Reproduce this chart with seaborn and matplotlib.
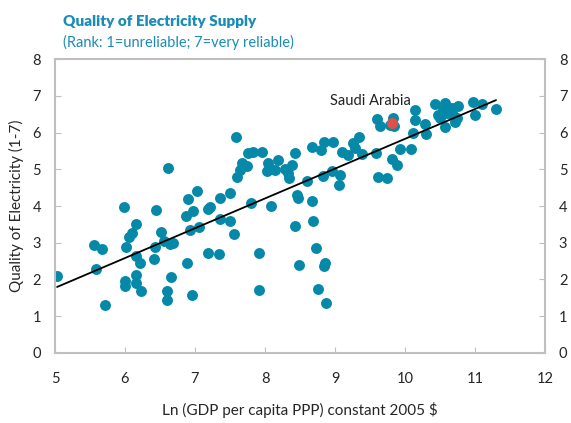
import numpy as np
import pandas as pd
import matplotlib
matplotlib.use("Agg")
import matplotlib.pyplot as plt
import seaborn as sns

# Ln GDP per capita (x) and electricity quality rank (y)
gdp = [5.03, 5.56, 5.59, 5.67, 5.71, 5.99, 6.01, 6.06, 6.10, 6.16,
       6.16, 6.21, 6.16, 6.00, 6.00, 6.16, 6.23, 6.44, 6.51, 6.43,
       6.41, 6.61, 6.56, 6.64, 6.69, 6.66, 6.60, 6.60, 6.87, 6.90,
       6.89, 6.96, 6.93, 7.03, 6.97, 7.19, 7.21, 7.06, 7.19, 7.34,
       7.36, 7.50, 7.36, 7.50, 7.56, 7.59, 7.76, 7.83, 7.96, 7.67,
       7.74, 7.64, 7.60, 7.80, 7.91, 7.91, 8.04, 8.03, 8.09, 8.14,
       8.19, 8.29, 8.33, 8.39, 8.34, 8.43, 8.09, 8.46, 8.47, 8.43,
       8.49, 8.60, 8.67, 8.80, 8.84, 8.97, 8.83, 8.67, 8.69, 8.73,
       8.84, 8.86, 8.76, 8.87, 8.96, 9.07, 9.06, 9.10, 9.19, 9.26,
       9.29, 9.34, 9.39, 9.59, 9.60, 9.64, 9.83, 9.79, 9.84, 9.61,
       9.74, 9.81, 9.89, 9.93, 10.09, 10.11, 10.14, 10.14, 10.29, 10.30,
       10.43, 10.47, 10.50, 10.57, 10.54, 10.60, 10.67, 10.69, 10.76, 10.57,
       10.74, 10.71, 10.97, 11.10, 11.00, 11.30]
quality = [2.10, 2.94, 2.29, 2.83, 1.31, 3.97, 2.88, 3.16, 3.27, 3.51,
           2.64, 2.45, 2.12, 1.96, 1.82, 1.90, 1.69, 3.89, 3.29, 2.88,
           2.56, 5.03, 3.05, 2.97, 2.99, 2.07, 1.69, 1.44, 3.73, 4.19,
           2.45, 1.58, 3.35, 4.41, 3.86, 3.92, 3.97, 3.43, 2.72, 2.69,
           4.22, 4.35, 3.65, 3.59, 3.24, 5.88, 5.44, 5.47, 5.47, 5.17,
           5.09, 4.98, 4.79, 4.08, 2.72, 1.71, 5.17, 4.95, 5.01, 4.98,
           5.25, 5.01, 4.90, 5.12, 4.76, 5.44, 4.00, 4.30, 4.22, 3.46,
           2.39, 4.68, 5.61, 5.52, 5.74, 5.74, 4.82, 4.14, 3.59, 2.86,
           2.37, 2.45, 1.74, 1.36, 4.95, 4.84, 4.57, 5.47, 5.39, 5.71,
           5.58, 5.88, 5.41, 5.44, 6.37, 6.18, 6.39, 6.20, 6.18, 4.79,
           4.76, 5.28, 5.12, 5.55, 5.55, 5.99, 6.61, 6.34, 6.23, 5.96,
           6.78, 6.48, 6.39, 6.80, 6.61, 6.53, 6.67, 6.48, 6.72, 6.15,
           6.39, 6.29, 6.83, 6.78, 6.48, 6.64]

saudi_gdp = [9.81]
saudi_quality = [6.26]

df = pd.DataFrame({"gdp": gdp + saudi_gdp, "quality": quality + saudi_quality})
saudi = pd.DataFrame({"gdp": saudi_gdp, "quality": saudi_quality})

sns.set_style("white")
plt.rcParams["font.family"] = ["Lato", "DejaVu Sans"]

fig = plt.figure(figsize=(5.71, 4.23), dpi=100)
ax = fig.add_axes([0.0963, 0.1655, 0.8582, 0.695])

teal = "#0689a8"
sns.regplot(data=df, x="gdp", y="quality", ci=None, ax=ax,
            scatter_kws=dict(s=62, color=teal, alpha=1, linewidths=0),
            line_kws=dict(color="black", lw=1.3))
sns.scatterplot(data=saudi, x="gdp", y="quality", ax=ax, s=62,
                color="#e0504a", linewidth=0, zorder=5)
ax.text(8.93, 6.86, "Saudi Arabia", fontsize=10.5, color="#222222",
        ha="left", va="center")

ax.set_xlim(5, 12)
ax.set_ylim(0, 8)
ax.set_xticks(range(5, 13))
ax.set_yticks(range(0, 9))
ax.set_xlabel("Ln (GDP per capita PPP) constant 2005 $", fontsize=11, labelpad=11)
ax.set_ylabel("Quality of Electricity (1-7)", fontsize=11, labelpad=6)

for s in ax.spines.values():
    s.set_color("#bfbfbf")
    s.set_linewidth(1.5)
ax.tick_params(axis="both", direction="in", length=4, color="#bfbfbf",
               labelsize=10.5, pad=10)
ax.tick_params(axis="y", right=True, labelright=True, left=True)
ax.tick_params(axis="x", bottom=True, top=False, pad=14)

fig.text(0.110, 0.948, "Quality of Electricity Supply", fontsize=11,
         fontweight="heavy", color="#1a8cb5", ha="left", va="center")
fig.text(0.110, 0.900, "(Rank: 1=unreliable; 7=very reliable)", fontsize=10.5,
         color="#1a8cb5", ha="left", va="center")

fig.savefig("out.png", dpi=100)
